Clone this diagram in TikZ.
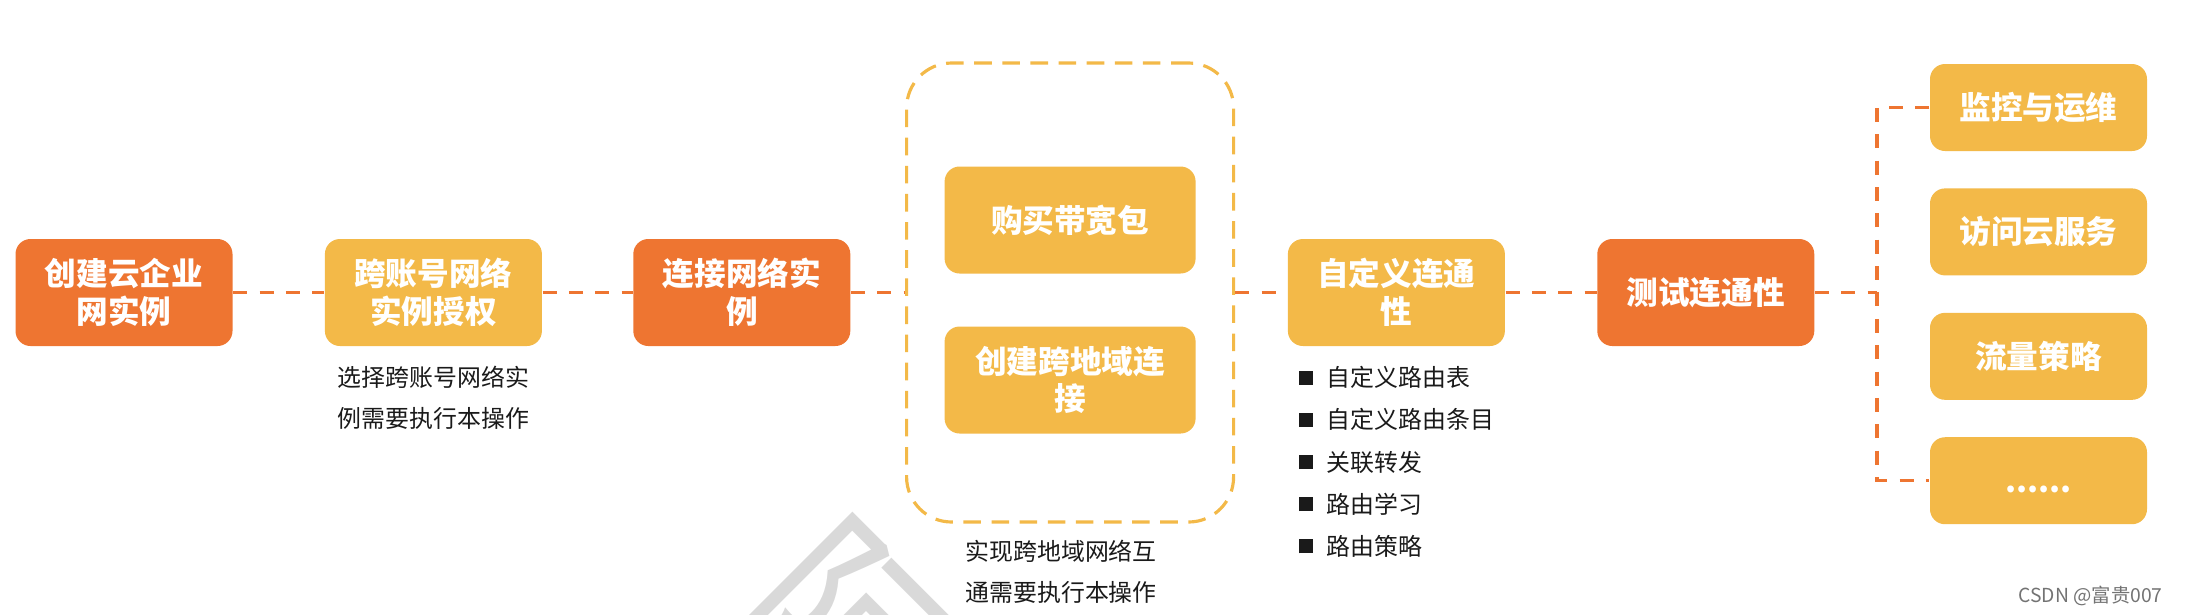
\documentclass[tikz,border=0pt]{standalone}
\usepackage{fontspec}
\setmainfont{Noto Sans CJK SC}
\usetikzlibrary{positioning}
\definecolor{stepOrange}{RGB}{238,117,49}
\definecolor{stepYellow}{RGB}{243,185,72}
\definecolor{noteBlack}{RGB}{26,26,26}
\newcommand{\routebullet}{\raisebox{0.02cm}{\rule{0.14cm}{0.14cm}}\hspace{0.14cm}}

\begin{document}
\begin{tikzpicture}[
    box/.style={rounded corners=0.15cm, minimum width=2.17cm, minimum height=1.07cm, align=center, text=white, font=\fontsize{9}{10.7}\selectfont\bfseries, inner sep=0pt},
    orangebox/.style={box, fill=stepOrange},
    yellowbox/.style={box, fill=stepYellow},
    sidebox/.style={yellowbox, minimum height=0.87cm},
    link/.style={draw=stepOrange, line width=1pt, dash pattern=on 4pt off 3.5pt},
    note/.style={align=center, text=noteBlack, font=\fontsize{6.8}{11.5}\selectfont, inner sep=0pt}
]
\useasboundingbox (0,0) rectangle (21.9,-6.14);
\node[rotate=-45, text=black!15, font=\fontsize{57}{57}\selectfont] (mark) at (8.5,-6.33) {阿};

\node[orangebox] (create) at (1.24,-2.925) {创建云企业\\网实例};
\node[yellowbox, right=0.91cm of create] (authorize) {跨账号网络\\实例授权};
\node[orangebox, right=0.9cm of authorize] (attach) {连接网络实\\例};
\node[draw=stepYellow, line width=0.9pt, dash pattern=on 5pt off 3pt, rounded corners=0.45cm,
      minimum width=3.27cm, minimum height=4.59cm, right=0.54cm of attach] (region) {};
\node[yellowbox, minimum width=2.51cm] (bandwidth) at ([yshift=0.725cm]region.center) {购买带宽包};
\node[yellowbox, minimum width=2.51cm] (crossregion) at ([yshift=-0.875cm]region.center) {创建跨地域连\\接};
\node[yellowbox, right=0.52cm of region] (custom) {自定义连通\\性};
\node[orangebox, right=0.91cm of custom] (test) {测试连通性};
\coordinate[right=0.62cm of test] (fork);

\node[sidebox] (monitor) at (20.385,-1.075) {监控与运维};
\node[sidebox, below=0.36cm of monitor] (access) {访问云服务};
\node[sidebox, below=0.36cm of access] (policy) {流量策略};
\node[sidebox, below=0.36cm of policy] (more) {\vphantom{流}......};

\node[note, below=0.19cm of authorize] (authnote) {选择跨账号网络实\\例需要执行本操作};
\node[note, below=0.16cm of region, xshift=-0.09cm] (regionnote) {实现跨地域网络互\\通需要执行本操作};
\node[note, align=left, font=\fontsize{6.8}{12}\selectfont, anchor=north west] (routes)
    at ([xshift=0.11cm, yshift=-0.19cm]custom.south west)
    {\routebullet 自定义路由表\\\routebullet 自定义路由条目\\\routebullet 关联转发\\\routebullet 路由学习\\\routebullet 路由策略};

\draw[link] (create) -- (authorize);
\draw[link] (authorize) -- (attach);
\draw[link] (attach) -- (region);
\draw[link] (region) -- (custom);
\draw[link] (custom) -- (test);
\draw[link] (test) -- (fork);
\draw[link] (monitor.west) -| (fork) |- (more.west);

\node[anchor=east, text=black!55, font=\fontsize{5.5}{6}\selectfont] (credit) at (21.75,-5.96) {CSDN @富贵007};
\end{tikzpicture}
\end{document}
